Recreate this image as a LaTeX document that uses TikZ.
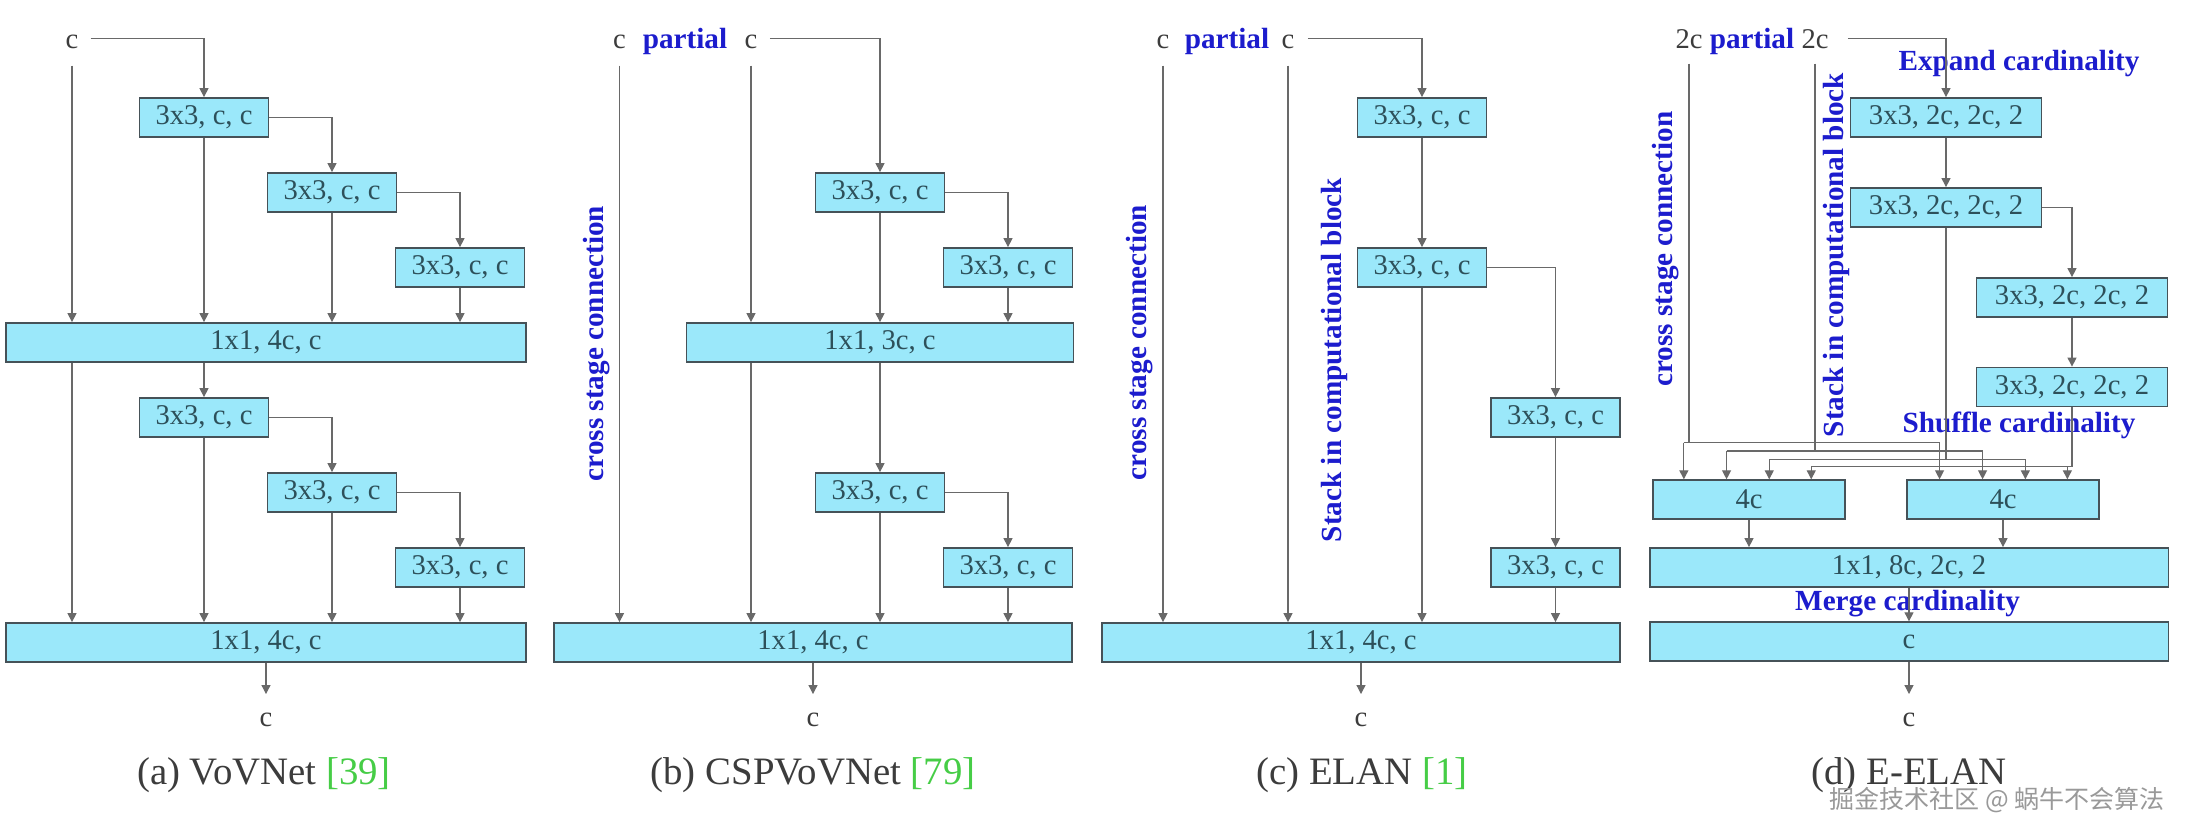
\documentclass[tikz,border=0pt]{standalone}
\usepackage{fontspec}
\setmainfont{Liberation Serif}
\newfontfamily\wmfont{Noto Sans CJK SC}
\usetikzlibrary{arrows.meta}
\definecolor{blkfill}{RGB}{155,232,250}
\definecolor{blkline}{RGB}{70,82,88}
\definecolor{blktext}{RGB}{45,80,90}
\definecolor{wiregray}{RGB}{105,105,105}
\definecolor{labgray}{RGB}{60,60,60}
\definecolor{noteblue}{RGB}{28,28,205}
\definecolor{citegreen}{RGB}{70,205,70}
\tikzset{
  blk/.style={draw=blkline, line width=0.9pt, fill=blkfill, text=blktext, inner sep=0pt,
    minimum width=64.5pt, minimum height=19.5pt, font=\fontsize{14.3}{16}\selectfont},
  wideblk/.style={blk, minimum width=#1},
  io/.style={text=labgray, inner sep=0pt, anchor=base, font=\fontsize{14.3}{16}\selectfont},
  note/.style={text=noteblue, inner sep=0pt, font=\bfseries\fontsize{14.6}{16}\selectfont},
  subcap/.style={text=labgray, inner sep=0pt, font=\fontsize{19.4}{21}\selectfont},
  wire/.style={draw=wiregray, line width=0.6pt},
  arr/.style={wire, -{Triangle[length=4.5pt,width=4.5pt]}},
}
\begin{document}
\begin{tikzpicture}[x=0.5pt,y=-0.5pt]
  \fill[white] (0,0) rectangle (2186,837);
  % (a) VoVNet
  \node[io] (ain) at (72,48) {c};
  \node[blk] (a1) at (204,117.5) {3x3, c, c};
  \node[blk] (a2) at (332,192.5) {3x3, c, c};
  \node[blk] (a3) at (460,267.5) {3x3, c, c};
  \node[wideblk=260pt] (abig1) at (266,342.5) {1x1, 4c, c};
  \node[blk] (a4) at (204,417.5) {3x3, c, c};
  \node[blk] (a5) at (332,492.5) {3x3, c, c};
  \node[blk] (a6) at (460,567.5) {3x3, c, c};
  \node[wideblk=260pt] (abig2) at (266,642.5) {1x1, 4c, c};
  \node[io] (aout) at (266,726.5) {c};
  \node[subcap] (acap) at (264,775.5) {(a) VoVNet \textcolor{citegreen}{[39]}};
  \begin{scope}
    \draw[arr] ([xshift=6pt,yshift=1.6pt]ain.east) -| (a1.north);
    \draw[arr] ([yshift=-8.5pt]ain.south) -- (ain.south |- abig1.north);
    \draw[arr] (ain.south |- abig1.south) -- (ain.south |- abig2.north);
    \draw[arr] (a1.east) -| (a2.north);
    \draw[arr] (a2.east) -| (a3.north);
    \foreach \b in {a1,a2,a3}
      \draw[arr] (\b.south) -- (\b.south |- abig1.north);
    \draw[arr] (a1.south |- abig1.south) -- (a4.north);
    \draw[arr] (a4.east) -| (a5.north);
    \draw[arr] (a5.east) -| (a6.north);
    \foreach \b in {a4,a5,a6}
      \draw[arr] (\b.south) -- (\b.south |- abig2.north);
    \draw[arr] (abig2.south) -- ([yshift=9.3pt]aout.north);
  \end{scope}
  % (b) CSPVoVNet
  \node[io] (bin1) at (619.5,48) {c};
  \node[note, anchor=base] (bpart) at (685,48) {partial};
  \node[io] (bin2) at (751,48) {c};
  \node[note, rotate=90] (bcross) at (597,343.5) {cross stage connection};
  \node[blk] (b1) at (880,192.5) {3x3, c, c};
  \node[blk] (b2) at (1008,267.5) {3x3, c, c};
  \node[wideblk=193.5pt] (bbig1) at (880,342.5) {1x1, 3c, c};
  \node[blk] (b3) at (880,492.5) {3x3, c, c};
  \node[blk] (b4) at (1008,567.5) {3x3, c, c};
  \node[wideblk=259pt] (bbig2) at (813,642.5) {1x1, 4c, c};
  \node[io] (bout) at (813,726.5) {c};
  \node[subcap] (bcap) at (813,775.5) {(b) CSPVoVNet \textcolor{citegreen}{[79]}};
  \begin{scope}
    \draw[arr] ([xshift=6pt,yshift=1.6pt]bin2.east) -| (b1.north);
    \draw[arr] ([yshift=-8.5pt]bin1.south) -- (bin1.south |- bbig2.north);
    \draw[arr] ([yshift=-8.5pt]bin2.south) -- (bin2.south |- bbig1.north);
    \draw[arr] (b1.east) -| (b2.north);
    \foreach \b in {b1,b2}
      \draw[arr] (\b.south) -- (\b.south |- bbig1.north);
    \draw[arr] (bin2.south |- bbig1.south) -- (bin2.south |- bbig2.north);
    \draw[arr] (b1.south |- bbig1.south) -- (b3.north);
    \draw[arr] (b3.east) -| (b4.north);
    \foreach \b in {b3,b4}
      \draw[arr] (\b.south) -- (\b.south |- bbig2.north);
    \draw[arr] (bbig2.south) -- ([yshift=9.3pt]bout.north);
  \end{scope}
  % (c) ELAN
  \node[io] (cin1) at (1163,48) {c};
  \node[note, anchor=base] (cpart) at (1227,48) {partial};
  \node[io] (cin2) at (1288,48) {c};
  \node[note, rotate=90] (ccross) at (1140,342.5) {cross stage connection};
  \node[note, rotate=90] (cstack) at (1334,360) {Stack in computational block};
  \node[blk] (c1) at (1422,117.5) {3x3, c, c};
  \node[blk] (c2) at (1422,267.5) {3x3, c, c};
  \node[blk] (c3) at (1555.5,417.5) {3x3, c, c};
  \node[blk] (c4) at (1555.5,567.5) {3x3, c, c};
  \node[wideblk=258.7pt] (cbig) at (1361,642.5) {1x1, 4c, c};
  \node[io] (cout) at (1361,726.5) {c};
  \node[subcap] (ccap) at (1362,775.5) {(c) ELAN \textcolor{citegreen}{[1]}};
  \begin{scope}
    \draw[arr] ([xshift=6.5pt,yshift=1.6pt]cin2.east) -| (c1.north);
    \draw[arr] ([yshift=-8.5pt]cin1.south) -- (cin1.south |- cbig.north);
    \draw[arr] ([yshift=-8.5pt]cin2.south) -- (cin2.south |- cbig.north);
    \draw[arr] (c1.south) -- (c2.north);
    \draw[arr] (c2.east) -| (c3.north);
    \draw[arr] (c3.south) -- (c4.north);
    \foreach \b in {c2,c4}
      \draw[arr] (\b.south) -- (\b.south |- cbig.north);
    \draw[arr] (cbig.south) -- ([yshift=9.3pt]cout.north);
  \end{scope}
  % (d) E-ELAN
  \node[io] (din1) at (1689,48) {2c};
  \node[note, anchor=base] (dpart) at (1752,48) {partial};
  \node[io] (din2) at (1815,48) {2c};
  \node[note] (dexpand) at (2019,63.3) {Expand cardinality};
  \node[note, rotate=90] (dcross) at (1666,249) {cross stage connection};
  \node[note, rotate=90] (dstack) at (1836,255) {Stack in computational block};
  \node[blk, minimum width=95.5pt] (d1) at (1946,117.5) {3x3, 2c, 2c, 2};
  \node[blk, minimum width=95.5pt] (d2) at (1946,207.5) {3x3, 2c, 2c, 2};
  \node[blk, minimum width=95.5pt] (d3) at (2072,297.5) {3x3, 2c, 2c, 2};
  \node[blk, minimum width=95.5pt] (d4) at (2072,387) {3x3, 2c, 2c, 2};
  \node[note] (dshuffle) at (2019,425) {Shuffle cardinality};
  \node[blk, minimum width=95.75pt] (d5) at (1749,499.7) {4c};
  \node[blk, minimum width=95.75pt] (d6) at (2003,499.7) {4c};
  \node[wideblk=259.4pt] (d7) at (1909,567.5) {1x1, 8c, 2c, 2};
  \node[note] (dmerge) at (1907.5,603.3) {Merge cardinality};
  \node[wideblk=259.4pt] (d8) at (1909,641.7) {c};
  \node[io] (dout) at (1909,726.5) {c};
  \node[subcap] (dcap) at (1909,775.5) {(d) E-ELAN};
  \coordinate (t1) at ([xshift=15.75pt]d5.north west);
  \coordinate (t2) at ([xshift=37.1pt]d5.north west);
  \coordinate (t3) at ([xshift=58.45pt]d5.north west);
  \coordinate (t4) at ([xshift=79.45pt]d5.north west);
  \coordinate (u1) at ([xshift=16.6pt]d6.north west);
  \coordinate (u2) at ([xshift=38.1pt]d6.north west);
  \coordinate (u3) at ([xshift=59.5pt]d6.north west);
  \coordinate (u4) at ([xshift=80.5pt]d6.north west);
  \begin{scope}
    \draw[arr] ([xshift=9.5pt]din2.east) -| (d1.north);
    \draw[arr] (d1.south) -- (d2.north);
    \draw[arr] (d2.east) -| (d3.north);
    \draw[arr] (d3.south) -- (d4.north);
    \foreach \i/\h in {1/18.35,2/14.15,3/10,4/6.35} {
      \coordinate (h\i) at ([yshift=\h pt]d5.north);
      \draw[wire] (t\i |- h\i) -- (u\i |- h\i);
      \draw[arr] (t\i |- h\i) -- (t\i);
      \draw[arr] (u\i |- h\i) -- (u\i);
    }
    \draw[wire] ([yshift=-7.5pt]din1.south) -- (din1.south |- h1);
    \draw[wire] ([yshift=-7.5pt]din2.south) -- (din2.south |- h2);
    \draw[wire] (d2.south) -- (d2.south |- h3);
    \draw[wire] (d4.south) -- (d4.south |- h4) -- (u4 |- h4);
    \draw[arr] (d5.south) -- (d5.south |- d7.north);
    \draw[arr] (d6.south) -- (d6.south |- d7.north);
    \draw[arr] (d7.south) -- (d8.north);
    \draw[arr] (d8.south) -- ([yshift=9.3pt]dout.north);
  \end{scope}
  \node[text=black!40, inner sep=0pt, font=\wmfont\fontsize{12.5}{14}\selectfont] (wmark) at (1997,800) {掘金技术社区 @ 蜗牛不会算法};
\end{tikzpicture}
\end{document}
